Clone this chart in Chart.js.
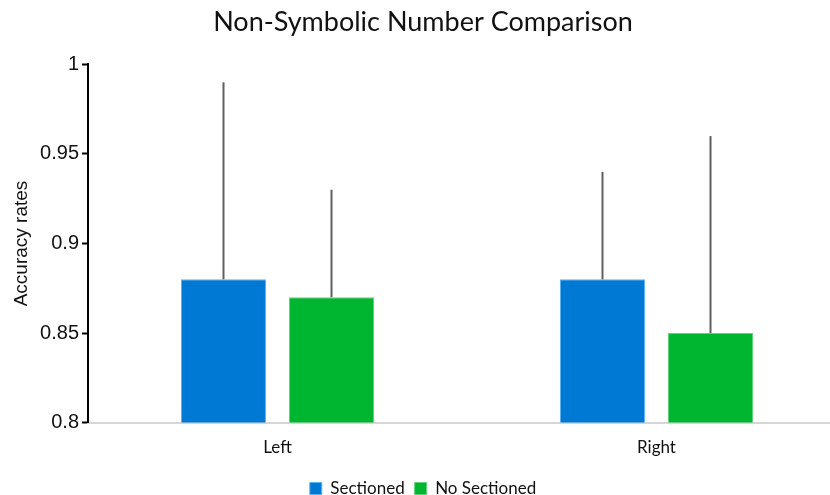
<!DOCTYPE html>
<html>
<head>
<meta charset="utf-8">
<script src="https://cdn.jsdelivr.net/npm/chart.js@4.4.1/dist/chart.umd.min.js"></script>
<style>
  html, body { margin: 0; padding: 0; background: #fff; overflow: hidden; }
  #wrap { width: 846px; height: 507px; position: relative; }
</style>
</head>
<body>
<div id="wrap"><canvas id="chart"></canvas></div>
<script>
// data
const categories = ["Left", "Right"];
const seriesNames = ["Sectioned", "No Sectioned"];
const sectioned = [0.88, 0.88];
const noSectioned = [0.87, 0.85];
// upper end of the error bars
const sectionedErrTop = [0.99, 0.94];
const noSectionedErrTop = [0.93, 0.96];
const yTicks = [0.8, 0.85, 0.9, 0.95, 1];

const blue = "#0079d5";
const green = "#00b52f";

// draws the upward-only error whiskers
const errorBars = {
  id: "errorBars",
  afterDatasetsDraw(chart) {
    const ctx = chart.ctx;
    const y = chart.scales.y;
    chart.data.datasets.forEach((ds, i) => {
      const meta = chart.getDatasetMeta(i);
      meta.data.forEach((bar, j) => {
        const top = y.getPixelForValue(ds.errTop[j]);
        ctx.save();
        ctx.strokeStyle = "#5f5f5f";
        ctx.lineWidth = 2;
        ctx.beginPath();
        ctx.moveTo(bar.x, bar.y);
        ctx.lineTo(bar.x, top);
        ctx.stroke();
        ctx.restore();
      });
    });
  }
};

new Chart(document.getElementById("chart"), {
  type: "bar",
  data: {
    labels: categories,
    datasets: [
      { label: seriesNames[0], data: sectioned, errTop: sectionedErrTop,
        backgroundColor: blue, borderColor: "#5ab4ee", borderWidth: 1, borderSkipped: "bottom" },
      { label: seriesNames[1], data: noSectioned, errTop: noSectionedErrTop,
        backgroundColor: green, borderColor: "#5fd47a", borderWidth: 1, borderSkipped: "bottom" }
    ]
  },
  options: {
    responsive: true,
    maintainAspectRatio: false,
    animation: false,
    datasets: { bar: { barPercentage: 0.787, categoryPercentage: 0.57 } },
    layout: { padding: { top: 4, right: 0, bottom: 0, left: 0 } },
    plugins: {
      title: {
        display: true,
        text: "Non-Symbolic Number Comparison",
        color: "#111",
        font: { family: "Lato", size: 27, weight: "normal" },
        padding: { top: 2, bottom: 26 }
      },
      legend: {
        position: "bottom",
        labels: {
          color: "#111",
          font: { family: "Lato", size: 17 },
          boxWidth: 12, boxHeight: 12,
          padding: 10
        }
      },
      tooltip: { enabled: false }
    },
    scales: {
      x: {
        afterFit: (axis) => { axis.height += 5; },
        grid: { display: false },
        border: { color: "#d6d6d6", width: 2 },
        ticks: { color: "#111", font: { family: "Lato", size: 17 }, padding: 7 }
      },
      y: {
        min: 0.8,
        max: 1,
        afterBuildTicks: (axis) => { axis.ticks = yTicks.map(v => ({ value: v })); },
        afterFit: (axis) => { axis.width = 88; },
        grid: { display: true, drawOnChartArea: false, drawTicks: true, tickLength: 6, tickColor: "#000", tickWidth: 2 },
        border: { color: "#000", width: 2 },
        ticks: {
          color: "#111",
          font: { family: "Liberation Sans", size: 20 },
          padding: 3,
          callback: (v) => String(v)
        },
        title: {
          display: true,
          text: "Accuracy rates",
          color: "#111",
          font: { family: "Liberation Sans", size: 19 },
          padding: { top: 10, bottom: 0 }
        }
      }
    }
  },
  plugins: [errorBars]
});
</script>
</body>
</html>
